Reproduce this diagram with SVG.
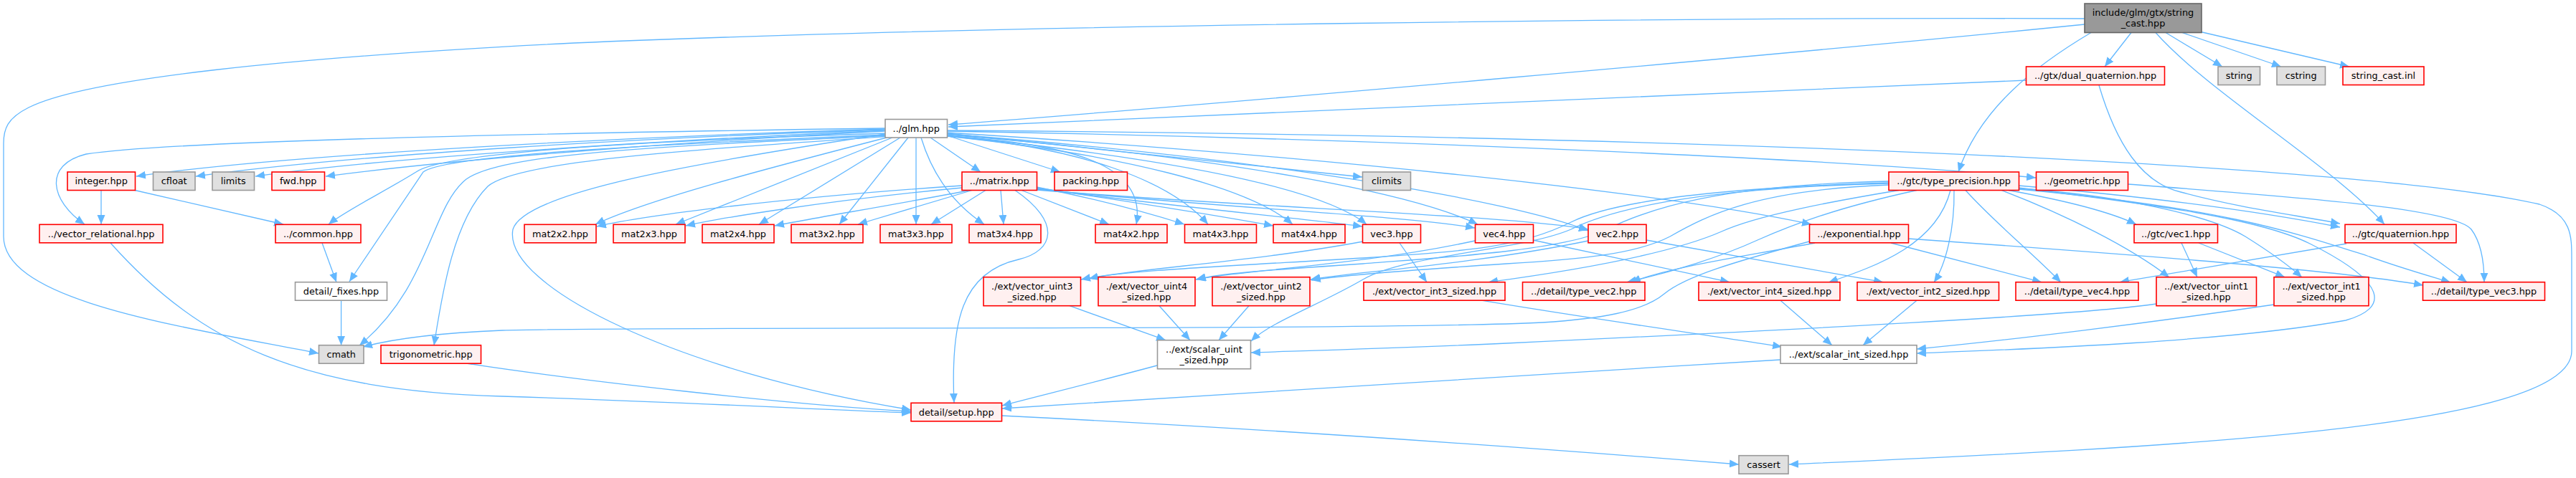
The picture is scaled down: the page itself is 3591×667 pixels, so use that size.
<svg xmlns="http://www.w3.org/2000/svg" width="3591" height="667" viewBox="0 0 3591 667">
<style>
rect{stroke-width:1.6}
.r{fill:#fff0f0;stroke:#ff0000}
.w{fill:#ffffff;stroke:#999999}
.g{fill:#e0e0e0;stroke:#999999}
.root{fill:#999999;stroke:#666666}
text{font-family:"DejaVu Sans","Liberation Sans",sans-serif;font-size:12.85px;text-anchor:middle;fill:#000}
#edges path{fill:none;stroke:#63b8ff;stroke-width:1.3;marker-end:url(#a)}
</style>
<defs>
<marker id="a" markerUnits="userSpaceOnUse" markerWidth="14" markerHeight="12" refX="13" refY="5.5" orient="auto"><path d="M0,0L13,5.5L0,11z" fill="#63b8ff"/></marker>
</defs>
<rect width="3591" height="667" fill="#fff" stroke="none"/>
<g id="edges">
<path d="M2906,26 C2400,24 1400,34 800,60 C400,80 120,110 40,150 C10,165 5,180 5,200 L5,330 C5,420 250,455 444,493"/>
<path d="M2906,34 C2500,75 1700,145 1322,174"/>
<path d="M2971,45.5 L2934,93"/>
<path d="M3019,45.5 L3098,93"/>
<path d="M3042,45.5 L3180,93"/>
<path d="M3066,44 L3275,93"/>
<path d="M2915,45.5 C2840,90 2760,150 2730,240"/>
<path d="M3005,45.5 C3080,130 3250,230 3324,313"/>
<path d="M2825,112 C2400,130 1700,160 1322,177"/>
<path d="M2926,119 C2950,200 2985,255 3040,268 C3120,290 3200,300 3262,312"/>
<path d="M1234,180 C900,190 400,215 190,246"/>
<path d="M1234,181 C900,192 500,215 273,246"/>
<path d="M1234,182 C950,195 550,218 356,246"/>
<path d="M1234,183 C1000,195 650,220 454,246"/>
<path d="M1234,179 C800,185 250,195 120,215 C60,230 70,280 118,313"/>
<path d="M1236,186 C950,195 620,210 580,240 C540,265 480,295 458,313"/>
<path d="M1238,188 C950,200 620,215 590,240 L487,393"/>
<path d="M1240,189 C900,205 700,215 650,250 C600,290 600,400 501,482"/>
<path d="M1242,190 C950,210 720,225 680,260 C630,310 615,420 605,482"/>
<path d="M1234,187 C950,230 730,270 715,320 C700,400 950,520 1270,572"/>
<path d="M1236,192 C1050,240 900,280 830,313"/>
<path d="M1244,192 L942,313"/>
<path d="M1255,192 L1058,313"/>
<path d="M1266,192 L1170,313"/>
<path d="M1277,192 L1277,313"/>
<path d="M1284,192 C1300,245 1330,285 1372,313"/>
<path d="M1297,192 L1367,240"/>
<path d="M1320,189 L1478,240"/>
<path d="M1320,190 C1480,200 1600,225 1584,313"/>
<path d="M1320,190 C1500,205 1630,250 1684,313"/>
<path d="M1320,190 C1560,215 1740,260 1802,313"/>
<path d="M1320,189 C1620,220 1840,260 1905,313"/>
<path d="M1320,188 C1720,220 1970,270 2060,313"/>
<path d="M1320,187 C1760,220 2110,280 2214,322"/>
<path d="M1320,186 L1899,247"/>
<path d="M1320,185 C1800,215 2300,265 2525,313"/>
<path d="M1320,183 C2000,195 2600,225 2838,248"/>
<path d="M1320,182 C2400,190 3300,230 3540,285 C3585,300 3585,330 3585,360 L3585,490 C3585,600 3000,625 2494,648"/>
<path d="M1341,259 C1100,275 900,300 832,316"/>
<path d="M1341,262 C1150,280 1000,305 956,315"/>
<path d="M1352,265.5 C1250,285 1130,305 1080,315"/>
<path d="M1355,265.5 L1196,313"/>
<path d="M1374,265.5 L1298,313"/>
<path d="M1395,265.5 L1399,313"/>
<path d="M1424,265.5 L1546,313"/>
<path d="M1445,261 C1540,280 1610,300 1651,313"/>
<path d="M1445,262 C1600,285 1720,305 1775,315"/>
<path d="M1445,263 C1650,290 1820,305 1899,316"/>
<path d="M1445,264 C1700,290 1950,300 2056,318"/>
<path d="M1445,265 C1750,290 2100,300 2214,320"/>
<path d="M1415,265.5 C1480,310 1470,350 1420,362 C1340,380 1325,450 1330,562"/>
<path d="M141,265.5 L141,313"/>
<path d="M188,265.5 L395,313"/>
<path d="M449,339 L469,393.7"/>
<path d="M475.6,419.2 L475.6,481.7"/>
<path d="M154,339 C280,480 420,545 700,553 C1000,563 1150,572 1270,576"/>
<path d="M650,507 C800,530 1100,565 1270,574"/>
<path d="M1900,337 C1750,365 1580,375 1507,390"/>
<path d="M1951,339 L1989,393.7"/>
<path d="M2056,336 C1900,370 1720,378 1667,390"/>
<path d="M2137,335 L2411,393.7"/>
<path d="M2214,336 C2050,370 1880,380 1827,390"/>
<path d="M2295,335 L2625,393.7"/>
<path d="M1491,426.7 L1625,474.7"/>
<path d="M1616,426.7 L1659,474.7"/>
<path d="M1741,426.7 L1699,474.7"/>
<path d="M2065,419.2 C2250,450 2400,470 2484,484"/>
<path d="M2482,419.2 L2554,481.7"/>
<path d="M2672,419.2 L2597,481.7"/>
<path d="M3006,424 C2900,440 2500,460 2100,479 C1950,486 1800,490 1744,492"/>
<path d="M3170,425 C3000,450 2800,475 2672,487"/>
<path d="M2814,262 C3000,285 3150,305 3220,340 C3330,395 3330,430 3270,447 C3100,478 2800,488 2672,493"/>
<path d="M2482,502 C2100,525 1700,550 1397,570"/>
<path d="M1613,510 C1520,535 1450,552 1397,566"/>
<path d="M1396,580 C1800,600 2200,630 2424,648"/>
<path d="M2530,339 C2420,360 2330,372 2274,393.7"/>
<path d="M2522,337 C2420,365 2350,385 2320,410 C2290,435 2230,445 2150,450 C1900,462 900,455 700,461 C600,465 540,475 506,484"/>
<path d="M2636,339 L2846,393.7"/>
<path d="M2660,333 C2900,350 3250,375 3378,398"/>
<path d="M2814,259 C3000,275 3150,295 3262,317"/>
<path d="M2800,265.5 C2880,280 2940,295 2978,313"/>
<path d="M2790,265.5 C2880,300 2970,345 3024,387"/>
<path d="M2814,263 C2950,272 3080,300 3130,330 C3170,355 3190,370 3209,387"/>
<path d="M2814,264 C3100,290 3200,325 3300,357 C3350,375 3390,386 3416,394"/>
<path d="M2740,265.5 C2780,310 2830,350 2873,394"/>
<path d="M2719,265.5 C2700,340 2620,370 2549,394"/>
<path d="M2724,265.5 C2725,320 2712,370 2696,394"/>
<path d="M2633,255 C2400,262 2250,280 2190,310 C2120,345 2050,350 1900,360 C1700,372 1560,378 1518,389"/>
<path d="M2633,253 C2400,258 2300,290 2240,320 C2180,350 2000,360 1900,368 C1750,378 1700,382 1668,390"/>
<path d="M2633,258 C2450,265 2380,300 2328,330 C2280,355 2200,362 2100,368 C1950,378 1860,385 1828,391"/>
<path d="M2647,265.5 C2560,280 2450,300 2400,323 C2350,345 2250,370 2075,393.7"/>
<path d="M2672,265.5 C2560,290 2500,313 2450,335 C2400,358 2330,380 2268,393.7"/>
<path d="M2633,256 C2400,262 2260,285 2190,320 C2120,350 1960,355 1900,390 C1840,425 1770,450 1744,476"/>
<path d="M3364,339 L3439,393.7"/>
<path d="M3271,340 L2955,393.7"/>
<path d="M3041,339 L3063,386.7"/>
<path d="M3065,339 L3185,386.7"/>
<path d="M2966,257 C3200,275 3420,290 3445,320 C3460,340 3463,370 3463,393.7"/>
</g>
<g id="n_root"><rect class="root" x="2906" y="5" width="163" height="40.5"/><text x="2987.5" y="21.5">include/glm/gtx/string</text><text x="2987.5" y="36.5">_cast.hpp</text></g>
<g id="n_dual"><rect class="r" x="2824.5" y="93" width="193" height="25.5"/><text x="2921" y="110.3">../gtx/dual_quaternion.hpp</text></g>
<g id="n_string"><rect class="g" x="3092" y="93" width="58.5" height="25.5"/><text x="3121.2" y="110.3">string</text></g>
<g id="n_cstring"><rect class="g" x="3174" y="93" width="67.5" height="25.5"/><text x="3207.7" y="110.3">cstring</text></g>
<g id="n_inl"><rect class="r" x="3266" y="93" width="113" height="25.5"/><text x="3322.5" y="110.3">string_cast.inl</text></g>
<g id="n_glm"><rect class="w" x="1234" y="166.5" width="86.5" height="25.5"/><text x="1277.2" y="183.8">../glm.hpp</text></g>
<g id="n_integer"><rect class="r" x="94" y="240" width="94.5" height="25.5"/><text x="141.2" y="257.3">integer.hpp</text></g>
<g id="n_cfloat"><rect class="g" x="213.5" y="240" width="58.5" height="25.5"/><text x="242.7" y="257.3">cfloat</text></g>
<g id="n_limits"><rect class="g" x="296" y="240" width="58.5" height="25.5"/><text x="325.2" y="257.3">limits</text></g>
<g id="n_fwd"><rect class="r" x="379" y="240" width="73.5" height="25.5"/><text x="415.7" y="257.3">fwd.hpp</text></g>
<g id="n_matrix"><rect class="r" x="1341" y="240" width="104.5" height="25.5"/><text x="1393.2" y="257.3">../matrix.hpp</text></g>
<g id="n_packing"><rect class="r" x="1470" y="240" width="101.5" height="25.5"/><text x="1520.7" y="257.3">packing.hpp</text></g>
<g id="n_climits"><rect class="g" x="1899.5" y="240" width="67" height="25.5"/><text x="1933" y="257.3">climits</text></g>
<g id="n_tp"><rect class="r" x="2633" y="240" width="181.5" height="25.5"/><text x="2723.7" y="257.3">../gtc/type_precision.hpp</text></g>
<g id="n_geometric"><rect class="r" x="2838.5" y="240" width="128" height="25.5"/><text x="2902.5" y="257.3">../geometric.hpp</text></g>
<g id="n_vrel"><rect class="r" x="55" y="313.3" width="172" height="25.5"/><text x="141" y="330.6">../vector_relational.hpp</text></g>
<g id="n_common"><rect class="r" x="384" y="313.3" width="119" height="25.5"/><text x="443.5" y="330.6">../common.hpp</text></g>
<g id="n_mat2x2"><rect class="r" x="731" y="313.3" width="100" height="25.5"/><text x="781" y="330.6">mat2x2.hpp</text></g>
<g id="n_mat2x3"><rect class="r" x="855" y="313.3" width="100" height="25.5"/><text x="905" y="330.6">mat2x3.hpp</text></g>
<g id="n_mat2x4"><rect class="r" x="979" y="313.3" width="100" height="25.5"/><text x="1029" y="330.6">mat2x4.hpp</text></g>
<g id="n_mat3x2"><rect class="r" x="1103" y="313.3" width="100" height="25.5"/><text x="1153" y="330.6">mat3x2.hpp</text></g>
<g id="n_mat3x3"><rect class="r" x="1227" y="313.3" width="100" height="25.5"/><text x="1277" y="330.6">mat3x3.hpp</text></g>
<g id="n_mat3x4"><rect class="r" x="1351" y="313.3" width="100" height="25.5"/><text x="1401" y="330.6">mat3x4.hpp</text></g>
<g id="n_mat4x2"><rect class="r" x="1527" y="313.3" width="100" height="25.5"/><text x="1577" y="330.6">mat4x2.hpp</text></g>
<g id="n_mat4x3"><rect class="r" x="1651.5" y="313.3" width="100" height="25.5"/><text x="1701.5" y="330.6">mat4x3.hpp</text></g>
<g id="n_mat4x4"><rect class="r" x="1775" y="313.3" width="100" height="25.5"/><text x="1825" y="330.6">mat4x4.hpp</text></g>
<g id="n_vec3"><rect class="r" x="1899.5" y="313.3" width="81" height="25.5"/><text x="1940" y="330.6">vec3.hpp</text></g>
<g id="n_vec4"><rect class="r" x="2056.5" y="313.3" width="81" height="25.5"/><text x="2097" y="330.6">vec4.hpp</text></g>
<g id="n_vec2"><rect class="r" x="2214" y="313.3" width="81" height="25.5"/><text x="2254.5" y="330.6">vec2.hpp</text></g>
<g id="n_expo"><rect class="r" x="2522.5" y="313.3" width="138" height="25.5"/><text x="2591.5" y="330.6">../exponential.hpp</text></g>
<g id="n_vec1"><rect class="r" x="2975" y="313.3" width="116.5" height="25.5"/><text x="3033.2" y="330.6">../gtc/vec1.hpp</text></g>
<g id="n_quat"><rect class="r" x="3269" y="313.3" width="155" height="25.5"/><text x="3346.5" y="330.6">../gtc/quaternion.hpp</text></g>
<g id="n_fixes"><rect class="w" x="411.5" y="393.7" width="128" height="25.5"/><text x="475.5" y="411">detail/_fixes.hpp</text></g>
<g id="n_uint3"><rect class="r" x="1371" y="386.7" width="135.5" height="40"/><text x="1438.7" y="403.9">./ext/vector_uint3</text><text x="1438.7" y="418.6">_sized.hpp</text></g>
<g id="n_uint4"><rect class="r" x="1531" y="386.7" width="135" height="40"/><text x="1598.5" y="403.9">./ext/vector_uint4</text><text x="1598.5" y="418.6">_sized.hpp</text></g>
<g id="n_uint2"><rect class="r" x="1690" y="386.7" width="136" height="40"/><text x="1758" y="403.9">./ext/vector_uint2</text><text x="1758" y="418.6">_sized.hpp</text></g>
<g id="n_int3"><rect class="r" x="1901" y="393.7" width="197" height="25.5"/><text x="1999.5" y="411">./ext/vector_int3_sized.hpp</text></g>
<g id="n_tv2"><rect class="r" x="2122.5" y="393.7" width="170.5" height="25.5"/><text x="2207.7" y="411">../detail/type_vec2.hpp</text></g>
<g id="n_int4"><rect class="r" x="2368" y="393.7" width="197" height="25.5"/><text x="2466.5" y="411">./ext/vector_int4_sized.hpp</text></g>
<g id="n_int2"><rect class="r" x="2589" y="393.7" width="197.5" height="25.5"/><text x="2687.7" y="411">./ext/vector_int2_sized.hpp</text></g>
<g id="n_tv4"><rect class="r" x="2810" y="393.7" width="171" height="25.5"/><text x="2895.5" y="411">../detail/type_vec4.hpp</text></g>
<g id="n_uint1"><rect class="r" x="3006" y="386.7" width="139.5" height="40"/><text x="3075.7" y="403.9">../ext/vector_uint1</text><text x="3075.7" y="418.6">_sized.hpp</text></g>
<g id="n_int1"><rect class="r" x="3170" y="386.7" width="132" height="40"/><text x="3236" y="403.9">../ext/vector_int1</text><text x="3236" y="418.6">_sized.hpp</text></g>
<g id="n_tv3"><rect class="r" x="3377.5" y="393.7" width="170" height="25.5"/><text x="3462.5" y="411">../detail/type_vec3.hpp</text></g>
<g id="n_cmath"><rect class="g" x="444.5" y="481.7" width="62.5" height="25.5"/><text x="475.7" y="499">cmath</text></g>
<g id="n_trig"><rect class="r" x="531" y="481.7" width="139.5" height="25.5"/><text x="600.7" y="499">trigonometric.hpp</text></g>
<g id="n_suint"><rect class="w" x="1613.5" y="474.7" width="130" height="40"/><text x="1678.5" y="491.9">../ext/scalar_uint</text><text x="1678.5" y="506.6">_sized.hpp</text></g>
<g id="n_sint"><rect class="w" x="2482" y="481.7" width="190" height="25.5"/><text x="2577" y="499">../ext/scalar_int_sized.hpp</text></g>
<g id="n_setup"><rect class="r" x="1270" y="562.3" width="126.5" height="25.5"/><text x="1333.2" y="579.6">detail/setup.hpp</text></g>
<g id="n_cassert"><rect class="g" x="2424" y="635.7" width="69" height="25.5"/><text x="2458.5" y="653">cassert</text></g>
</svg>
